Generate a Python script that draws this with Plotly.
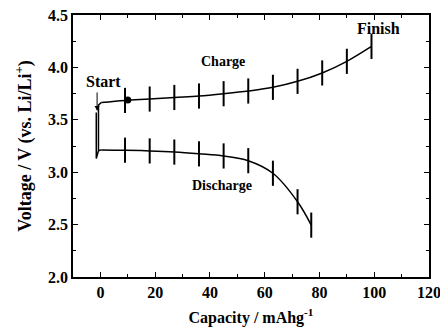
import plotly.graph_objects as go

# Charge curve (points with error bars)
charge_x = [0.3, 9, 18, 27, 36, 45, 54, 63, 72, 81, 90, 99]
charge_y = [3.665, 3.685, 3.698, 3.713, 3.727, 3.749, 3.775, 3.81, 3.867, 3.947, 4.058, 4.20]
charge_err = [0, 0.12, 0.12, 0.12, 0.12, 0.12, 0.12, 0.12, 0.12, 0.12, 0.12, 0.12]

# Discharge curve
discharge_x = [0.3, 9, 18, 27, 36, 45, 54, 63, 72, 77]
discharge_y = [3.213, 3.21, 3.203, 3.192, 3.175, 3.155, 3.11, 2.99, 2.718, 2.495]
discharge_err = [0, 0.12, 0.12, 0.12, 0.12, 0.12, 0.12, 0.12, 0.12, 0.12]

# Start connectors
start_charge_x = [-0.7, -0.7, 0.3]
start_charge_y = [3.213, 3.64, 3.665]
start_dis_x = [-1.5, -1.5, -0.7, 0.3]
start_dis_y = [3.57, 3.13, 3.205, 3.213]

# marker dot
dot_x = [10]
dot_y = [3.688]

# tick labels
x_ticks = [0, 20, 40, 60, 80, 100, 120]
x_minor = [-10, 10, 30, 50, 70, 90, 110]
y_ticks = [2.0, 2.5, 3.0, 3.5, 4.0, 4.5]
y_minor = [2.25, 2.75, 3.25, 3.75, 4.25]

FONT = "Liberation Serif"
fig = go.Figure()

for xs, ys in [(start_charge_x, start_charge_y), (start_dis_x, start_dis_y)]:
    fig.add_trace(go.Scatter(x=xs, y=ys, mode="lines",
                             line=dict(color="black", width=1.5), showlegend=False))

for xs, ys, es in [(charge_x, charge_y, charge_err), (discharge_x, discharge_y, discharge_err)]:
    fig.add_trace(go.Scatter(x=xs, y=ys, mode="lines",
                             line=dict(color="black", width=1.5, shape="spline", smoothing=1.0),
                             error_y=dict(type="data", array=es, visible=True,
                                          color="black", thickness=2, width=0),
                             showlegend=False))

fig.add_trace(go.Scatter(x=dot_x, y=dot_y, mode="markers",
                         marker=dict(color="black", size=7), showlegend=False))

fig.add_annotation(x=-1.2, y=3.585, ax=-1.2, ay=3.775, xref="x", yref="y",
                   axref="x", ayref="y", showarrow=True, arrowhead=2,
                   arrowsize=1, arrowwidth=1, arrowcolor="black", text="")

annots = [("Start", 1.3, 3.87, 16), ("Finish", 101.7, 4.37, 16),
          ("Charge", 44.6, 4.06, 14), ("Discharge", 44.3, 2.87, 14)]
for t, x, y, s in annots:
    fig.add_annotation(x=x, y=y, text="<b>%s</b>" % t, showarrow=False,
                       font=dict(family=FONT, size=s, color="black"))

axis_common = dict(showline=True, linecolor="black", linewidth=1.5, mirror="ticks",
                   ticks="inside", ticklen=5, tickwidth=1.3, tickcolor="black",
                   showgrid=False, zeroline=False, automargin=False,
                   ticklabeloverflow="allow",
                   tickfont=dict(family=FONT, size=16, color="black"))

fig.update_xaxes(range=[-10, 120], tickvals=x_ticks,
                 ticktext=["<b>%d</b>" % v for v in x_ticks],
                 minor=dict(tickvals=x_minor, ticks="inside",
                            ticklen=3, tickcolor="black", tickwidth=1.3),
                 title=dict(text="<b>Capacity / mAhg<sup>-1</sup></b>", standoff=12,
                            font=dict(family=FONT, size=16, color="black")),
                 **axis_common)
fig.update_yaxes(range=[2.0, 4.5], tickvals=y_ticks,
                 ticktext=["<b>%.1f</b>" % v for v in y_ticks],
                 minor=dict(tickvals=y_minor, ticks="inside",
                            ticklen=3, tickcolor="black", tickwidth=1.3),
                 title=dict(text="<b>Voltage / V (vs. Li/Li<sup>+</sup>)</b>", standoff=12,
                            font=dict(family=FONT, size=18, color="black")),
                 **axis_common)

fig.update_layout(width=440, height=329, margin=dict(l=73, r=11, t=15, b=52),
                  font=dict(family=FONT, color="black"),
                  plot_bgcolor="white", paper_bgcolor="white")

fig.write_html("out.html")
